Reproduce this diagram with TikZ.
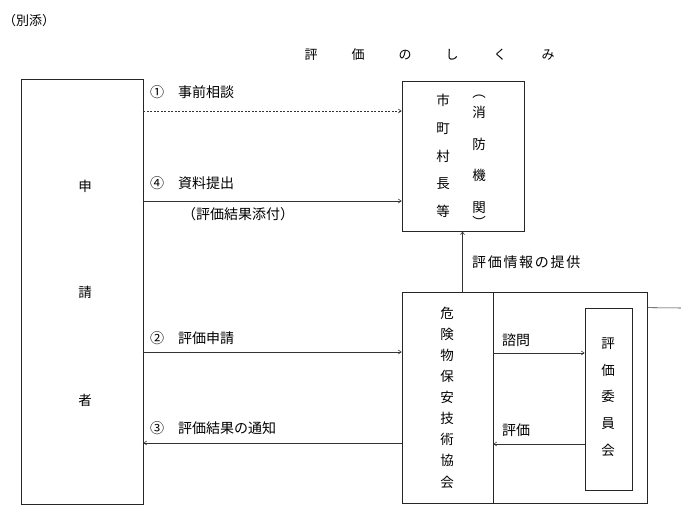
\documentclass[tikz,border=0pt]{standalone}
\usepackage{fontspec}
\setmainfont{Noto Sans CJK JP}
\usetikzlibrary{arrows.meta}
\tikzset{
  box/.style={draw=black!85, line width=0.65pt, inner sep=0pt},
  conn/.style={draw=black!80, line width=0.55pt, -{Straight Barb[length=3pt,width=4pt]}},
  lbl/.style={font=\fontsize{14}{14}\selectfont, inner sep=0pt, anchor=west, text=black},
  vcol/.style={inner sep=0pt, align=center, text=black},
}
\begin{document}
\begin{tikzpicture}[x=1pt,y=-1pt]
\useasboundingbox (0,0) rectangle (681,522);
% boxes
\node[box, minimum width=122pt, minimum height=425pt] (app) at (82,291.5) {};
\node[box, minimum width=122pt, minimum height=150pt] (city) at (463,156) {};
\node[box, minimum width=245pt, minimum height=211pt] (outer) at (524.5,397.5) {};
\node[box, minimum width=91pt, minimum height=211pt] (assoc) at (447.5,397.5) {};
\node[box, minimum width=47pt, minimum height=182pt] (comm) at (608.5,399) {};
\coordinate (edge) at (681,308);
\coordinate (up) at (462.5,0);
% headers
\node[lbl, font=\fontsize{13}{13}\selectfont] (bessi) at (3,21) {（別添）};
\node[lbl, anchor=center, font=\fontsize{13}{13}\selectfont] (t1) at (311,55) {評};
\node[lbl, anchor=center, font=\fontsize{13}{13}\selectfont] (t2) at (358,55) {価};
\node[lbl, anchor=center, font=\fontsize{13}{13}\selectfont] (t3) at (405,55) {の};
\node[lbl, anchor=center, font=\fontsize{13}{13}\selectfont] (t4) at (452,55) {し};
\node[lbl, anchor=center, font=\fontsize{13}{13}\selectfont] (t5) at (500,55) {く};
\node[lbl, anchor=center, font=\fontsize{13}{13}\selectfont] (t6) at (548,55) {み};
% applicant
\node[lbl, anchor=center, font=\fontsize{13.5}{13.5}\selectfont] (s1) at (85,186) {申};
\node[lbl, anchor=center, font=\fontsize{13.5}{13.5}\selectfont] (s2) at (85,292) {請};
\node[lbl, anchor=center, font=\fontsize{13.5}{13.5}\selectfont] (s3) at (85,400) {者};
% city column
\node[vcol, font=\fontsize{13.5}{27.8}\selectfont] (citytxt) at (443,156) {市\\町\\村\\長\\等};
\node[vcol, font=\fontsize{13.5}{31.5}\selectfont] (firetxt) at (479,160) {消\\防\\機\\関};
\node[vcol, font=\fontsize{13.5}{13.5}\selectfont] (pl) at (479,97) {︵};
\node[vcol, font=\fontsize{13.5}{13.5}\selectfont] (pr) at (479,222) {︶};
% association column
\node[vcol, font=\fontsize{13.5}{21.1}\selectfont] (assoctxt) at (447,397.5) {危\\険\\物\\保\\安\\技\\術\\協\\会};
\node[vcol, font=\fontsize{13.5}{26.8}\selectfont] (commtxt) at (608,397) {評\\価\\委\\員\\会};
% connectors
\draw[conn, dashed, dash pattern=on 2pt off 1.5pt] (app.east |- 0,111) -- (city.west |- 0,111);
\draw[conn] (app.east |- 0,201) -- (city.west |- 0,201);
\draw[conn] (app.east |- 0,352) -- (assoc.west |- 0,352);
\draw[conn] (assoc.west |- 0,443) -- (app.east |- 0,443);
\draw[conn] (assoc.north -| up) -- (city.south -| up);
\draw[conn] (assoc.east |- 0,353) -- (comm.west |- 0,353);
\draw[conn] (comm.west |- 0,444) -- (assoc.east |- 0,444);
\draw[draw=black!80, line width=0.55pt] (outer.east |- comm.north) -- (edge);
% connector labels
\node[lbl] (l1) at (150,92) {①\hspace{14pt}事前相談};
\node[lbl] (l4) at (150,183) {④\hspace{14pt}資料提出};
\node[lbl] (l4b) at (182,214) {（評価結果添付）};
\node[lbl] (l2) at (150,338) {②\hspace{14pt}評価申請};
\node[lbl] (l3) at (150,428) {③\hspace{14pt}評価結果の通知};
\node[lbl, font=\fontsize{14}{14}\selectfont\addfontfeatures{LetterSpace=12}] (info) at (472,262) {評価情報の提供};
\node[lbl] (ask) at (502,340) {諮問};
\node[lbl] (eval) at (502,430) {評価};
\end{tikzpicture}
\end{document}
